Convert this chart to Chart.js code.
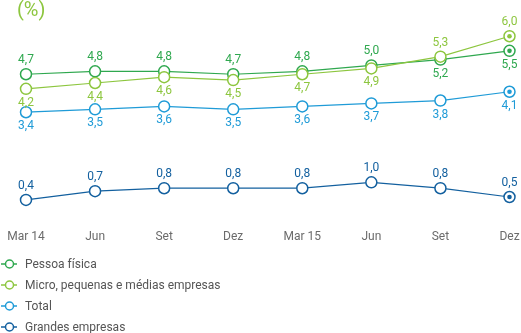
<!DOCTYPE html>
<html>
<head>
<meta charset="utf-8">
<script src="https://cdn.jsdelivr.net/npm/chart.js@4"></script>
<style>
  body { margin: 0; background: #fff; font-family: Roboto, sans-serif; }
  #wrap { position: relative; width: 521px; height: 333px; overflow: hidden; }
  #chart-box { position: absolute; left: 0; top: 0; width: 521px; height: 262px; }
  #unit { position: absolute; left: 17px; top: -3px; font-size: 20px; color: #8dc63f; }
  #legend { position: absolute; left: 0; top: 253px; }
  .leg-item { display: flex; align-items: center; height: 21px; font-size: 12px; color: #555; }
  .leg-item canvas { margin-right: 7px; }
</style>
</head>
<body>
<div id="wrap">
  <div id="chart-box"><canvas id="mainChart"></canvas></div>
  <div id="unit">(%)</div>
  <div id="legend"></div>
</div>
<script>
// ------- Data -------
const quarters = ['Mar 14', 'Jun', 'Set', 'Dez', 'Mar 15', 'Jun', 'Set', 'Dez'];
const seriesNames = ['Pessoa física', 'Micro, pequenas e médias empresas', 'Total', 'Grandes empresas'];
const pessoaFisica = [4.7, 4.8, 4.8, 4.7, 4.8, 5.0, 5.2, 5.5];
const microPme = [4.2, 4.4, 4.6, 4.5, 4.7, 4.9, 5.3, 6.0];
const total = [3.4, 3.5, 3.6, 3.5, 3.6, 3.7, 3.8, 4.1];
const grandesEmpresas = [0.4, 0.7, 0.8, 0.8, 0.8, 1.0, 0.8, 0.5];

// where each value label sits: 1 = above the point, -1 = below
const labelSide = [
  [1, 1, 1, 1, 1, 1, -1, -1],
  [-1, -1, -1, -1, -1, -1, 1, 1],
  [-1, -1, -1, -1, -1, -1, -1, -1],
  [1, 1, 1, 1, 1, 1, 1, 1]
];

const COLORS = ['#2fa84f', '#8dc63f', '#1f9bd7', '#13609f'];

// ------- Plugin: value labels + last point dot -------
const valueLabels = {
  id: 'valueLabels',
  afterDatasetsDraw(chart) {
    const ctx = chart.ctx;
    ctx.save();
    ctx.font = '12px Roboto, sans-serif';
    ctx.textAlign = 'center';
    ctx.textBaseline = 'middle';
    chart.data.datasets.forEach((ds, di) => {
      const meta = chart.getDatasetMeta(di);
      meta.data.forEach((pt, i) => {
        const v = ds.data[i];
        ctx.fillStyle = COLORS[di];
        const side = labelSide[di][i];
        ctx.fillText(v.toFixed(1).replace('.', ','), pt.x, pt.y - side * 14);
        if (i === meta.data.length - 1) {
          ctx.beginPath();
          ctx.arc(pt.x, pt.y, 2.3, 0, Math.PI * 2);
          ctx.fill();
        }
      });
    });
    ctx.restore();
  }
};

const allSeries = [pessoaFisica, microPme, total, grandesEmpresas];

const ctx = document.getElementById('mainChart').getContext('2d');
const mainChart = new Chart(ctx, {
  type: 'line',
  data: {
    labels: quarters,
    datasets: allSeries.map((data, i) => ({
      label: seriesNames[i],
      data,
      borderColor: COLORS[i],
      backgroundColor: '#fff',
      pointBackgroundColor: '#fff',
      pointBorderColor: COLORS[i],
      pointRadius: 5.5,
      pointBorderWidth: 1.5,
      borderWidth: 1.2,
      tension: 0,
      order: 4 - i
    }))
  },
  options: {
    responsive: true,
    maintainAspectRatio: false,
    animation: false,
    layout: { padding: { top: 7, left: 26, right: 11.5, bottom: 0 } },
    plugins: { legend: { display: false }, tooltip: { enabled: false } },
    scales: {
      x: {
        grid: { display: false, drawTicks: false },
        border: { display: false },
        ticks: { padding: 18, color: '#6b6b6b', font: { size: 12, family: 'Roboto' }, maxRotation: 0, autoSkip: false },
        afterFit(scale) {
          // labels may spill past the plot edges, as in the original
          scale.paddingLeft = 0;
          scale.paddingRight = 0;
        }
      },
      y: { display: false, min: 0, max: 7 }
    }
  },
  plugins: [valueLabels]
});

// ------- Legend -------
const legendEl = document.getElementById('legend');
seriesNames.forEach((name, i) => {
  const item = document.createElement('div');
  item.className = 'leg-item';
  const icon = document.createElement('canvas');
  icon.width = 18; icon.height = 12;
  const g = icon.getContext('2d');
  g.strokeStyle = COLORS[i];
  g.lineWidth = 1.5;
  g.beginPath(); g.moveTo(1, 6); g.lineTo(17, 6); g.stroke();
  g.fillStyle = '#fff';
  g.beginPath(); g.arc(9.5, 6, 4, 0, Math.PI * 2); g.fill(); g.stroke();
  item.appendChild(icon);
  const span = document.createElement('span');
  span.textContent = name;
  item.appendChild(span);
  legendEl.appendChild(item);
});
</script>
</body>
</html>
